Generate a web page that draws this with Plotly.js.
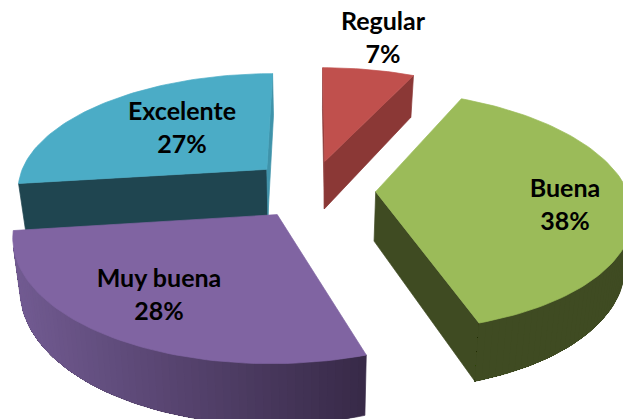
<!DOCTYPE html>
<html>
<head>
<meta charset="utf-8">
<script src="https://cdn.plot.ly/plotly-3.0.1.min.js"></script>
<style>html,body{margin:0;padding:0;background:#fff}#chart{width:623px;height:419px}</style>
</head>
<body>
<div id="chart"></div>
<script>
// Survey shares, clockwise from twelve o'clock
const categories = ["Regular", "Buena", "Muy buena", "Excelente"];
const shares = [7, 38, 28, 27];

// Slice appearance
const topColors = ["#C0504D", "#9BBB59", "#8064A2", "#4BACC6"];
const startFaceColors = ["#8B3836", "#3F4B22", "#3A2C4A", "#1F4550"];
const endFaceColors = ["#8B3836", "#3F4B22", "#3A2C4A", "#3F93AA"];
const rimLeft = [[139,56,54], [63,75,34], [114,91,146], [31,69,80]];
const rimRight = [[139,56,54], [63,75,34], [56,42,72], [31,69,80]];
const explode = [0.265, 0.232, 0.254, 0.274];
const shiftX = [-0.022, 0.004, -0.015, 0.004];
const shiftY = [0, 0.005, 0.015, 0.005];
const paintOrder = [0, 3, 1, 2];

// Label anchors in plot units
const labelX = [383, 565, 159, 182];
const nameY = [24, 191, 281, 114];
const shareY = [57, 224, 314, 147];

// Perspective camera for the tilted pie
const cam = {cx: 310, cy: 200, A: 255, B: 120, k: 0.16, C: 50, pinch: 0.025, ox: 0.025, oy: 0.08};

function project(x, y, z) {
  const s = 1 / (1 + cam.k * y);
  return [
    cam.cx + s * x * cam.A * (1 - cam.pinch * z),
    cam.cy - s * y * cam.B + s * cam.C * z
  ];
}

function poly(points, color, width) {
  const xs = points.map(p => p[0]);
  const ys = points.map(p => p[1]);
  return {
    type: "scatter", mode: "lines", x: xs.concat(xs[0]), y: ys.concat(ys[0]),
    fill: "toself", fillcolor: color, line: {color: color, width: width},
    hoverinfo: "skip", showlegend: false
  };
}

// Positive for a quad wound one way on screen, negative the other
function winding(p) {
  let a = 0;
  for (let i = 0; i < p.length; i++) {
    const q = p[(i + 1) % p.length];
    a += p[i][0] * q[1] - q[0] * p[i][1];
  }
  return a;
}

const total = shares.reduce((a, b) => a + b, 0);
const starts = [];
shares.reduce((acc, v, i) => { starts[i] = acc; return acc + v; }, 0);

const traces = [];
paintOrder.forEach(i => {
  const t0 = starts[i] / total * 2 * Math.PI;
  const t1 = (starts[i] + shares[i]) / total * 2 * Math.PI;
  const mid = (t0 + t1) / 2;
  const ax = cam.ox + shiftX[i] + explode[i] * Math.sin(mid);
  const ay = cam.oy + shiftY[i] + explode[i] * Math.cos(mid);
  const rim = (t, z) => project(ax + Math.sin(t), ay + Math.cos(t), z);
  const apex = z => project(ax, ay, z);

  // Cut faces along the two straight edges
  const startFace = [apex(0), rim(t0, 0), rim(t0, 1), apex(1)];
  const endFace = [apex(0), rim(t1, 0), rim(t1, 1), apex(1)];
  if (winding(startFace) < 0) traces.push(poly(startFace, startFaceColors[i], 0.7));
  if (winding(endFace) > 0) traces.push(poly(endFace, endFaceColors[i], 0.7));

  // Curved wall: each layer covers the remaining span, so colour steps leave no seams
  const steps = Math.max(8, Math.round((t1 - t0) / (1.5 * Math.PI / 180)));
  const edge = [];
  for (let n = 0; n <= steps; n++) edge.push(t0 + (t1 - t0) * n / steps);
  const visible = [];
  for (let n = 0; n < steps; n++) {
    const band = [rim(edge[n], 0), rim(edge[n + 1], 0), rim(edge[n + 1], 1), rim(edge[n], 1)];
    if (winding(band) < 0) visible.push(n);
  }
  if (visible.length) {
    const first = visible[0];
    const last = visible[visible.length - 1] + 1;
    const xs = edge.map(t => rim(t, 0)[0]);
    const lo = Math.min(...xs);
    const hi = Math.max(...xs);
    for (let n = first; n < last; n++) {
      const span = edge.slice(n, last + 1);
      const wall = span.map(t => rim(t, 0)).concat(span.slice().reverse().map(t => rim(t, 1)));
      const f = Math.min(1, Math.max(0, (rim(edge[n], 0)[0] - lo) / (hi - lo)));
      const c = rimLeft[i].map((v, k) => Math.round(v + (rimRight[i][k] - v) * f));
      traces.push(poly(wall, "rgb(" + c.join(",") + ")", n === first ? 0.7 : 0));
    }
  }

  // Top face
  const face = [apex(0)].concat(edge.map(t => rim(t, 0)));
  traces.push(poly(face, topColors[i], 0.7));
});

traces.push({
  type: "scatter", mode: "text",
  x: labelX.concat(labelX),
  y: nameY.concat(shareY),
  text: categories.concat(shares.map(v => v + "%")),
  textposition: "middle center",
  textfont: {family: "Lato, Carlito, sans-serif", size: 25, color: "#000", weight: 700},
  hoverinfo: "skip", showlegend: false, cliponaxis: false
});

const layout = {
  width: 623, height: 419,
  margin: {l: 0, r: 0, t: 0, b: 0},
  paper_bgcolor: "#fff", plot_bgcolor: "#fff",
  showlegend: false,
  xaxis: {range: [0, 623], visible: false, fixedrange: true},
  yaxis: {range: [419, 0], visible: false, fixedrange: true}
};

Plotly.newPlot("chart", traces, layout, {displayModeBar: false, staticPlot: true});
</script>
</body>
</html>
